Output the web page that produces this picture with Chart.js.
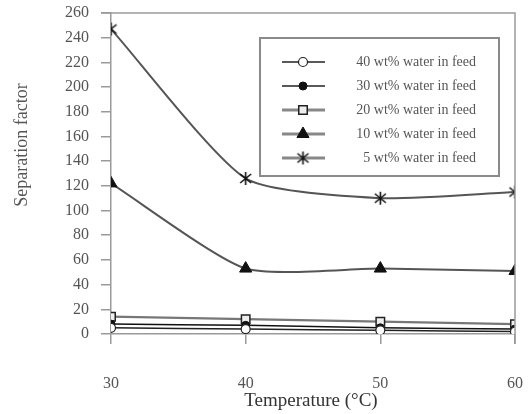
<!DOCTYPE html>
<html>
<head>
<meta charset="utf-8">
<script src="https://cdn.jsdelivr.net/npm/chart.js@4.4.0/dist/chart.umd.min.js"></script>
<style>
  html, body { margin: 0; padding: 0; background: #fff; }
  #wrap { width: 528px; height: 414px; }
</style>
</head>
<body>
<div id="wrap"><canvas id="sepChart" width="528" height="414"></canvas></div>
<script>
// temperature (°C)
const temperatures = [30, 40, 50, 60];
const seriesLabels = [
    '40 wt% water in feed',
    '30 wt% water in feed',
    '20 wt% water in feed',
    '10 wt% water in feed',
    '5 wt% water in feed'
];
// separation factor
const feed40 = [5, 4, 3, 2];
const feed30 = [8, 7, 5, 4];
const feed20 = [14, 12, 10, 8];
const feed10 = [122, 53, 53, 51];
const feed5 = [247, 126, 110, 115];
const yTicks = [0, 20, 40, 60, 80, 100, 120, 140, 160, 180, 200, 220, 240, 260];

const axisGray = '#9a9a9a';
const textGray = '#555';
const serif = "'Liberation Serif', 'DejaVu Serif', serif";

// asterisk marker (x with a vertical stroke)
function makeAsterisk() {
    const c = document.createElement('canvas');
    c.width = 15; c.height = 15;
    const g = c.getContext('2d');
    g.strokeStyle = '#111';
    g.lineWidth = 1.6;
    g.beginPath();
    g.moveTo(7.5, 1); g.lineTo(7.5, 14);
    g.moveTo(2, 3); g.lineTo(13, 12);
    g.moveTo(13, 3); g.lineTo(2, 12);
    g.stroke();
    return c;
}
const asterisk = makeAsterisk();

function toPoints(values) {
    return temperatures.map((t, i) => ({ x: t, y: values[i] }));
}

const datasets = [
    { label: seriesLabels[0], data: toPoints(feed40), borderColor: '#222', borderWidth: 1.5,
      pointStyle: 'circle', pointRadius: 4.5, pointBackgroundColor: '#fff', pointBorderColor: '#222', pointBorderWidth: 1.2 },
    { label: seriesLabels[1], data: toPoints(feed30), borderColor: '#111', borderWidth: 1.5,
      pointStyle: 'circle', pointRadius: 4, pointBackgroundColor: '#111', pointBorderColor: '#111', pointBorderWidth: 1 },
    { label: seriesLabels[2], data: toPoints(feed20), borderColor: '#777', borderWidth: 2.2,
      pointStyle: 'rect', pointRadius: 6, pointBackgroundColor: '#eee', pointBorderColor: '#222', pointBorderWidth: 1.5 },
    { label: seriesLabels[3], data: toPoints(feed10), borderColor: '#555', borderWidth: 2,
      pointStyle: 'triangle', pointRadius: 7, pointBackgroundColor: '#111', pointBorderColor: '#111', pointBorderWidth: 1 },
    { label: seriesLabels[4], data: toPoints(feed5), borderColor: '#555', borderWidth: 2,
      pointStyle: asterisk, pointRadius: 7, pointBackgroundColor: '#111', pointBorderColor: '#111', pointBorderWidth: 1 }
];
datasets.forEach(ds => { ds.fill = false; ds.tension = 0.2; });

// frame, axis titles and the boxed legend
const decorations = {
    id: 'decorations',
    afterDraw(chart) {
        const ctx = chart.ctx;
        const a = chart.chartArea;
        ctx.save();
        ctx.strokeStyle = axisGray;
        ctx.lineWidth = 1.5;
        ctx.beginPath();
        ctx.moveTo(a.left - 10, a.top);
        ctx.lineTo(a.right, a.top);
        ctx.lineTo(a.right, a.bottom + 10);
        ctx.stroke();

        // y title
        ctx.fillStyle = textGray;
        ctx.font = '18px ' + serif;
        ctx.textAlign = 'center';
        ctx.textBaseline = 'middle';
        ctx.translate(22, 145);
        ctx.rotate(-Math.PI / 2);
        ctx.fillText('Separation factor', 0, 0);
        ctx.restore();

        // x title
        ctx.save();
        ctx.fillStyle = '#333';
        ctx.font = '19px ' + serif;
        ctx.textAlign = 'center';
        ctx.textBaseline = 'middle';
        ctx.fillText('Temperature (\u00B0C)', 311, 401);
        ctx.restore();

        // legend
        ctx.save();
        ctx.strokeStyle = '#8a8a8a';
        ctx.lineWidth = 2;
        ctx.strokeRect(260, 38, 239, 138);
        ctx.font = '14px ' + serif;
        ctx.textAlign = 'right';
        ctx.textBaseline = 'middle';
        chart.data.datasets.forEach((ds, i) => {
            const y = 62 + i * 24;
            ctx.strokeStyle = i < 2 ? '#222' : '#888';
            ctx.lineWidth = i < 2 ? 1.5 : 3;
            ctx.beginPath();
            ctx.moveTo(282, y);
            ctx.lineTo(325, y);
            ctx.stroke();
            ctx.fillStyle = ds.pointBackgroundColor;
            ctx.strokeStyle = ds.pointBorderColor;
            ctx.lineWidth = ds.pointBorderWidth;
            Chart.helpers.drawPoint(ctx, {
                pointStyle: ds.pointStyle,
                radius: ds.pointRadius,
                borderWidth: ds.pointBorderWidth,
                rotation: 0
            }, 303, y);
            ctx.fillStyle = textGray;
            ctx.fillText(ds.label, 476, y);
        });
        ctx.restore();
    }
};

new Chart(document.getElementById('sepChart'), {
    type: 'line',
    data: { datasets: datasets },
    plugins: [decorations],
    options: {
        responsive: false,
        animation: false,
        layout: { autoPadding: false, padding: { top: 13, right: 13, left: 0, bottom: 0 } },
        plugins: {
            legend: { display: false },
            tooltip: { enabled: false }
        },
        scales: {
            x: {
                type: 'linear',
                min: 30,
                max: 60,
                afterFit: s => { s.height = 80; s.paddingLeft = 0; s.paddingRight = 0; },
                ticks: {
                    stepSize: 10,
                    padding: 30,
                    color: textGray,
                    font: { family: serif, size: 16 }
                },
                grid: { drawOnChartArea: false, tickLength: 10, color: axisGray, lineWidth: 1.5 },
                border: { color: axisGray, width: 1.5 }
            },
            y: {
                min: 0,
                max: 260,
                afterFit: s => { s.width = 111; s.paddingTop = 0; s.paddingBottom = 0; },
                afterBuildTicks: s => { s.ticks = yTicks.map(v => ({ value: v })); },
                ticks: {
                    padding: 12,
                    color: textGray,
                    font: { family: serif, size: 16 }
                },
                grid: { drawOnChartArea: false, tickLength: 10, color: axisGray, lineWidth: 1.5 },
                border: { color: axisGray, width: 1.5 }
            }
        }
    }
});
</script>
</body>
</html>
